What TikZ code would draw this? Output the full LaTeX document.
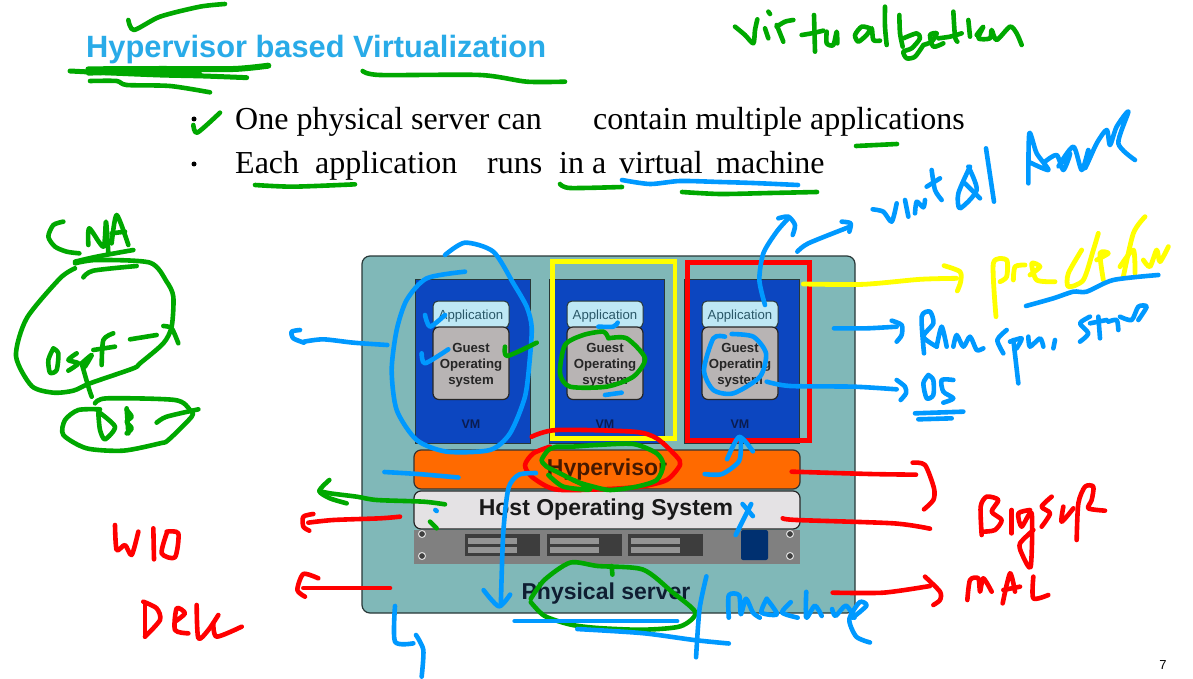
\documentclass[tikz,border=0pt]{standalone}
\usepackage{fontspec}
\setmainfont{Liberation Sans}
\newfontfamily\serifrm{Liberation Serif}
\definecolor{inkgreen}{HTML}{00A800}
\definecolor{inkblue}{HTML}{0099FF}
\definecolor{inkred}{HTML}{FF0000}
\definecolor{inkyellow}{HTML}{FFFF00}
\definecolor{panelteal}{HTML}{80B8B8}
\definecolor{vmblue}{HTML}{0C46C0}
\definecolor{edgedark}{HTML}{283838}
\newcommand\ink[2]{\draw[#1] plot[smooth,tension=.45] coordinates {#2};}
\newcommand\fsz[1]{\fontsize{#1}{#1}\selectfont}
\tikzset{
  gr/.style={draw=inkgreen,line width=4.6pt,line cap=round,line join=round},
  bl/.style={draw=inkblue,line width=4.6pt,line cap=round,line join=round},
  rd/.style={draw=inkred,line width=4.6pt,line cap=round,line join=round},
  ye/.style={draw=inkyellow,line width=4.8pt,line cap=round,line join=round},
  zm/.style n args={3}{shift={(#1,#2)},scale=#3},
  vmbox/.style={draw=edgedark,fill=vmblue,line width=1pt},
  appbox/.style={draw=edgedark,fill=appfill,rounded corners=5pt,line width=1pt},
  osbox/.style={draw=black!85,fill=guestfill,rounded corners=6pt,line width=1.2pt},
  apptext/.style={text=appink,inner sep=0pt,font=\fsz{13.2}},
  ostext/.style={text=black!85,inner sep=0pt,align=center,font=\fsz{13.2}\bfseries},
  vmtext/.style={text=vmink,inner sep=0pt,font=\fsz{12.5}\bfseries},
  bullettext/.style={anchor=base west,inner sep=0pt,font=\serifrm\fsz{32},text=black},
  slotbox/.style={fill=black!76},
  slotbar/.style={fill=black!42},
  screw/.style={circle,fill=black!75,draw=black!12,line width=1pt,minimum size=7pt,inner sep=0pt},
}
\definecolor{appfill}{HTML}{BEE8F5}
\definecolor{guestfill}{HTML}{B8B4B4}
\definecolor{appink}{HTML}{2A5868}
\definecolor{vmink}{HTML}{0A1C50}
\begin{document}
\begin{tikzpicture}[x=1pt,y=-1pt]
\useasboundingbox (0,0) rectangle (1193,679);
\fill[white] (0,0) rectangle (1193,679);
% --- printed slide ---
\node[anchor=base west,inner sep=0pt,font=\fsz{30.8}\bfseries,text={rgb,255:red,41;green,171;blue,232}] (title) at (86,58) {Hypervisor based Virtualization};
\node[circle,fill=black,inner sep=0pt,minimum size=5pt] (b1) at (194,119) {};
\node[circle,fill=black,inner sep=0pt,minimum size=5pt] (b2) at (194,164) {};
\node[bullettext] (l1a) at (235,130) {One physical server can};
\node[bullettext] (l1b) at (593,130) {contain multiple applications};
\node[bullettext] (l2a) at (235,174) {Each};
\node[bullettext] (l2b) at (315,174) {application};
\node[bullettext] (l2c) at (487,174) {runs};
\node[bullettext] (l2d) at (559,174) {in a};
\node[bullettext] (l2e) at (619,174) {virtual};
\node[bullettext] (l2f) at (716,174) {machine};
\node[inner sep=0pt,font=\fsz{13}] (pagenum) at (1163,665) {7};
% --- server panel ---
\draw[fill=panelteal,draw=edgedark,line width=1.2pt,rounded corners=8pt] (362,256) rectangle (855,613);
\foreach \vx/\id in {415/a,549/b,684/c}{
  \draw[vmbox] (\vx,279) rectangle ++(115.5,164);
  \draw[appbox] (\vx+18,301) rectangle ++(76,27);
  \node[apptext] (app\id) at (\vx+56,316) {Application};
  \draw[osbox] (\vx+18,327) rectangle ++(76,72.5);
  \node[ostext] (os\id) at (\vx+56,365) {Guest\\[3pt]Operating\\[3pt]system};
  \node[vmtext] (vm\id) at (\vx+56,424) {VM};
}
\fill[black!50] (414,530) rectangle (800,564);
\foreach \sx in {465,547,628}{
  \fill[slotbox] (\sx,534) rectangle ++(75,22);
  \fill[slotbar] (\sx+3,537.5) rectangle ++(49,6);
  \fill[slotbar] (\sx+3,546.5) rectangle ++(49,6);
}
\fill[fill={rgb,255:red,0;green,48;blue,112},rounded corners=2pt] (741,530) rectangle (768,560);
\node[screw] (s1) at (422,534) {};
\node[screw] (s2) at (422,556) {};
\node[screw] (s3) at (790,534) {};
\node[screw] (s4) at (790,556) {};
\draw[fill={rgb,255:red,255;green,106;blue,0},draw=black!80,line width=1.2pt,rounded corners=7pt] (414,450) rectangle (800,489);
\draw[fill={rgb,255:red,228;green,226;blue,228},draw=black!85,line width=1.2pt,rounded corners=7pt] (414,491) rectangle (800,529);
\node[inner sep=0pt,font=\fsz{23}\bfseries,text={rgb,255:red,70;green,25;blue,0}] (hyp) at (607,470) {Hypervisor};
\node[inner sep=0pt,font=\fsz{23}\bfseries,text=black!90] (host) at (606,510) {Host Operating System};
\node[inner sep=0pt,font=\fsz{23}\bfseries,text={rgb,255:red,15;green,30;blue,50}] (phys) at (606,594) {Physical server};
% --- title and bullet annotations ---
\begin{scope}[zm={60}{0}{0.33333}]
\ink{gr}{(205,60) (222,90) (300,50) (420,20) (495,12)}
\ink{gr,line width=5pt}{(30,213) (130,218) (300,225) (430,228) (560,233)}
\ink{gr,line width=6pt}{(85,208) (300,207) (520,207) (625,197)}
\ink{gr}{(85,220) (300,215) (420,222)}
\ink{gr}{(90,243) (170,243) (200,255) (330,258) (450,277)}
\ink{gr}{(908,213) (960,225) (1260,225) (1400,245) (1515,245)}
\ink{gr}{(400,375) (412,398) (480,338)}
\ink{gr}{(585,555) (700,560) (885,553)}
\end{scope}
\ink{gr}{(560,184) (570,188) (622,187)}
\ink{gr}{(856,146) (897,144)}
\ink{bl}{(622,180) (650,184) (680,181) (720,182) (753,183) (798,185)}
\ink{gr}{(682,192) (720,194) (770,193) (817,192)}
% --- virtualization ---
\begin{scope}[zm={720}{0}{0.33333}]
\ink{gr}{(45,80) (75,105) (100,130) (105,90) (112,58)}
\ink{gr}{(135,85) (145,115)}
\ink{gr}{(145,35) (150,42)}
\ink{gr}{(170,75) (190,125)}
\ink{gr}{(170,80) (195,65) (220,60)}
\ink{gr}{(282,45) (285,155)}
\ink{gr}{(245,105) (275,100) (310,92)}
\ink{gr}{(320,95) (320,130) (340,135) (350,95) (352,130)}
\ink{gr}{(450,85) (425,80) (405,105) (415,125) (440,105) (455,85) (460,120) (480,122)}
\ink{gr}{(495,20) (495,80) (500,135)}
\ink{gr}{(538,45) (540,100) (548,140)}
\ink{gr}{(550,115) (590,100) (600,115) (575,145) (550,155) (560,175) (585,170) (610,135)}
\ink{gr}{(610,135) (635,125) (650,100) (630,105) (640,140) (670,130)}
\ink{gr}{(700,35) (705,110) (712,125)}
\ink{gr}{(655,115) (690,110) (725,100)}
\ink{gr}{(745,60) (750,110)}
\ink{gr}{(770,105) (790,80) (775,115) (810,115) (815,90) (830,120) (870,80) (890,100) (905,135)}
\end{scope}
% --- left: CNA, ospf, DB, W10, Dell ---
\begin{scope}[zm={0}{200}{0.33333}]
\ink{gr}{(190,65) (160,75) (145,110) (165,140) (200,155) (238,160)}
\ink{gr}{(265,135) (268,85) (310,140) (318,65) (325,160)}
\ink{gr}{(335,130) (350,45) (385,135)}
\ink{gr}{(335,100) (375,95)}
\ink{gr}{(225,185) (290,170) (400,150)}
\ink{gr}{(225,190) (290,180) (450,188) (500,245) (520,290) (515,380) (490,430) (420,490) (400,505) (270,550) (220,572) (160,578) (95,558) (48,468) (80,355) (180,235) (225,205)}
\ink{gr}{(250,232) (280,212) (410,198)}
\ink{gr}{(160,445) (145,480) (150,518) (170,510) (175,460) (160,445)}
\ink{gr}{(230,460) (205,480) (235,490) (205,512)}
\ink{gr}{(245,490) (265,560) (275,590)}
\ink{gr}{(245,490) (275,465) (255,500)}
\ink{gr}{(340,400) (310,420) (305,495)}
\ink{gr}{(280,450) (345,440)}
\ink{gr}{(390,418) (470,405)}
\ink{gr}{(490,378) (515,385) (535,430)}
\ink{gr}{(285,610) (320,595) (525,600) (570,630) (575,650) (505,720) (480,730) (370,752) (260,745) (190,705) (195,660) (235,630) (300,628)}
\ink{gr}{(295,640) (300,690) (315,718) (345,680) (295,635)}
\ink{gr}{(380,625) (385,700)}
\ink{gr}{(380,630) (395,650) (380,665) (395,685) (380,700)}
\ink{gr}{(470,668) (500,650) (595,628)}
\ink{rd}{(345,975) (350,1050) (375,1035) (395,1065) (415,995)}
\ink{rd}{(460,985) (462,1078)}
\ink{rd}{(500,1000) (485,1060) (525,1072) (535,1000) (500,995)}
\ink{rd}{(435,1210) (435,1310)}
\ink{rd}{(430,1205) (470,1225) (480,1260) (435,1310)}
\ink{rd}{(525,1265) (555,1240) (530,1225) (525,1290) (565,1300)}
\ink{rd}{(590,1215) (595,1315) (625,1290) (655,1245)}
\ink{rd}{(640,1270) (650,1310) (725,1280)}
\end{scope}
% --- on the VMs ---
\begin{scope}[zm={350}{230}{0.33333}]
\ink{bl}{(285,75) (345,38) (430,65) (490,160) (530,230) (545,290) (540,380) (525,500) (480,610) (420,660) (290,665) (200,630) (140,540) (125,420) (140,300) (170,210) (230,145) (345,125)}
\ink{bl}{(225,255) (240,290) (285,255)}
\ink{bl}{(215,370) (225,400) (295,358)}
\ink{gr}{(465,350) (472,378) (560,338)}
\ink{bl}{(745,290) (790,290) (803,278)}
\ink{bl}{(765,495) (815,488)}
\ink{gr}{(775,325) (830,325) (885,385) (850,440) (770,470) (660,470) (630,430) (645,345) (700,315) (760,305) (775,325)}
\ink{bl}{(1125,320) (1090,325) (1062,420) (1090,480) (1150,490) (1230,440) (1248,370) (1210,320) (1145,312)}
\draw[ye,line width=4.5pt,line cap=butt,line join=miter] (608,95) rectangle (975,625);
\draw[rd,line width=5pt,line cap=butt,line join=miter] (1012,98) rectangle (1378,632);
\end{scope}
% --- right-hand annotations ---
\begin{scope}[zm={720}{90}{0.33333}]
\ink{bl}{(135,645) (118,570) (130,490) (170,425) (205,385)}
\ink{bl}{(175,385) (205,380) (225,405) (218,435)}
\ink{bl}{(232,485) (265,460) (390,410)}
\ink{bl}{(365,395) (392,400) (388,425)}
\ink{ye}{(250,582) (430,583) (600,568) (710,565)}
\ink{ye}{(672,527) (720,545) (722,575) (712,603)}
\ink{ye}{(828,680) (820,520) (860,510) (860,560) (840,575)}
\ink{ye}{(880,570) (885,530) (915,525)}
\ink{ye}{(930,555) (960,530) (935,520) (950,570) (1005,575)}
\ink{ye}{(1085,480) (1045,550) (1045,590) (1090,570) (1120,480) (1135,430)}
\ink{ye}{(1130,510) (1165,490) (1140,490) (1150,570)}
\ink{ye}{(1275,380) (1240,430) (1210,560)}
\ink{ye}{(1200,530) (1240,480) (1245,550)}
\ink{ye}{(1270,510) (1290,530) (1310,480) (1320,515) (1345,470)}
\ink{bl}{(918,648) (1000,625) (1060,605) (1100,605) (1180,570) (1315,555)}
\ink{bl}{(342,715) (440,715) (530,710)}
\ink{bl}{(515,692) (545,705) (545,735) (530,755)}
\ink{bl}{(612,790) (605,680) (630,665) (640,700) (610,740) (650,770)}
\ink{bl}{(650,770) (665,710) (680,770)}
\ink{bl}{(700,770) (710,735) (730,770) (750,740) (770,780) (790,775)}
\ink{bl}{(860,720) (832,750) (850,790)}
\ink{bl}{(880,750) (895,880)}
\ink{bl}{(870,755) (905,745) (890,775)}
\ink{bl}{(925,740) (930,770) (960,745) (970,770)}
\ink{bl}{(1005,750) (1000,775)}
\ink{bl}{(1110,680) (1080,700) (1105,730) (1080,755)}
\ink{bl}{(1135,680) (1140,745)}
\ink{bl}{(1110,700) (1160,690)}
\ink{bl}{(1165,695) (1190,690) (1195,720)}
\ink{bl}{(1200,680) (1235,690) (1255,650) (1280,650) (1255,690)}
\ink{bl}{(458,358) (490,365) (515,395) (530,340)}
\ink{bl}{(555,330) (565,380)}
\ink{bl}{(585,370) (590,335) (610,352) (615,330)}
\ink{bl}{(635,240) (645,300) (665,330)}
\ink{bl}{(620,290) (660,265)}
\ink{bl}{(750,230) (715,310) (720,355) (770,300) (745,230)}
\ink{bl}{(735,280) (780,325)}
\ink{bl}{(798,175) (822,335)}
\ink{bl}{(925,280) (928,130) (950,190) (985,240) (925,215)}
\ink{bl}{(975,215) (1010,195) (1030,240) (1050,190) (1015,230) (1060,170) (1085,240) (1105,180) (1095,235) (1130,160) (1160,120) (1170,165) (1190,110) (1225,65) (1195,160) (1245,210)}
\ink{bl}{(625,855) (610,880) (620,925) (640,915) (640,870) (625,855)}
\ink{bl}{(700,870) (665,870) (670,905) (700,925) (670,938)}
\ink{bl}{(585,970) (730,965)}
\ink{bl}{(595,988) (695,985)}
\ink{bl}{(140,875) (210,888) (400,890) (530,898)}
\ink{bl}{(530,870) (555,890) (558,910) (542,930)}
\end{scope}
% --- hypervisor rings ---
\begin{scope}[zm={500}{430}{0.33333}]
\ink{rd}{(95,20) (170,0) (400,5) (470,25) (530,80) (540,105) (500,150) (420,170) (300,178) (165,178) (95,140) (75,105) (100,70) (150,50)}
\ink{gr}{(170,50) (215,50) (290,45) (400,42) (470,70) (490,105) (470,150) (410,170) (330,180) (280,170) (230,155) (180,130) (140,110) (125,90) (145,60) (170,50)}
\ink{gr}{(145,135) (190,170) (270,178) (220,150)}
\end{scope}
% --- lower panel annotations ---
\begin{scope}[zm={350}{430}{0.34435}]
\ink{bl}{(540,125) (490,130) (460,170) (445,300) (438,510)}
\ink{bl}{(388,465) (432,512) (465,478)}
\ink{bl}{(100,122) (200,128) (315,138)}
\ink{bl}{(1030,128) (1080,128) (1130,90) (1135,30)}
\ink{bl}{(1095,85) (1130,20) (1170,62)}
\ink{bl}{(1140,215) (1170,250)}
\ink{bl}{(1165,215) (1120,305)}
\ink{gr}{(525,490) (565,435) (640,385) (720,395) (850,405) (935,470) (1003,530) (960,570) (850,580) (720,575) (640,565) (565,540) (525,500)}
\ink{gr}{(760,395) (762,420)}
\ink{bl}{(478,555) (600,555) (950,555)}
\ink{bl}{(660,578) (850,590) (1000,610) (1100,620)}
\ink{bl}{(1035,425) (1015,520) (1005,660)}
\ink{bl}{(1100,545) (1100,480) (1130,480) (1135,535) (1150,490) (1170,530) (1190,545)}
\ink{bl}{(1210,490) (1195,530) (1240,535) (1210,490)}
\ink{bl}{(1280,500) (1255,530) (1300,545)}
\ink{bl}{(1325,470) (1325,545) (1350,510) (1370,540)}
\ink{bl}{(1400,520) (1410,540) (1440,510) (1465,545)}
\ink{bl}{(1460,545) (1500,510) (1480,500) (1450,550) (1470,600) (1510,617)}
\end{scope}
\begin{scope}[zm={780}{450}{0.33333}]
\ink{rd}{(35,65) (270,72) (408,74)}
\ink{rd}{(398,38) (435,45) (462,115) (460,150) (432,178)}
\ink{rd}{(8,205) (50,210) (340,220) (450,236)}
\ink{rd}{(605,255) (602,170) (620,140) (655,150) (635,185) (665,210) (645,240) (610,245)}
\ink{rd}{(695,180) (695,250)}
\ink{rd}{(750,180) (715,190) (725,230) (755,190) (752,350) (725,310) (720,280) (760,240)}
\ink{rd}{(815,140) (785,170) (810,190) (785,230)}
\ink{rd}{(850,170) (845,215) (880,175)}
\ink{rd}{(890,270) (895,160) (915,110) (940,110) (935,150) (925,175) (975,182)}
\ink{rd}{(562,450) (570,390) (595,385) (600,425) (610,385) (635,425)}
\ink{rd}{(668,460) (690,370) (705,425)}
\ink{rd}{(670,420) (720,410)}
\ink{rd}{(760,380) (760,445) (805,435)}
\ink{rd}{(158,428) (310,428) (450,408)}
\ink{rd}{(435,380) (480,425) (480,450) (460,465)}
\end{scope}
\begin{scope}[zm={280}{320}{0.33333}]
\ink{bl}{(322,75) (220,68) (130,58) (72,65)}
\ink{bl}{(60,30) (35,35) (40,55) (72,68)}
\ink{gr}{(495,553) (430,545) (290,540) (230,530) (150,520) (118,513)}
\ink{gr}{(148,480) (118,513) (150,535) (200,550)}
\ink{bl}{(466,570) (470,573)}
\ink{gr}{(450,605) (470,625)}
\ink{rd}{(360,590) (300,595) (160,600) (85,608)}
\ink{rd}{(100,582) (70,590) (70,620) (88,632)}
\ink{rd}{(330,804) (70,804)}
\ink{rd}{(115,775) (70,762) (52,810) (75,830)}
\ink{bl}{(345,858) (345,965) (400,970)}
\ink{bl}{(408,945) (430,990) (425,1070)}
\end{scope}
\end{tikzpicture}
\end{document}
